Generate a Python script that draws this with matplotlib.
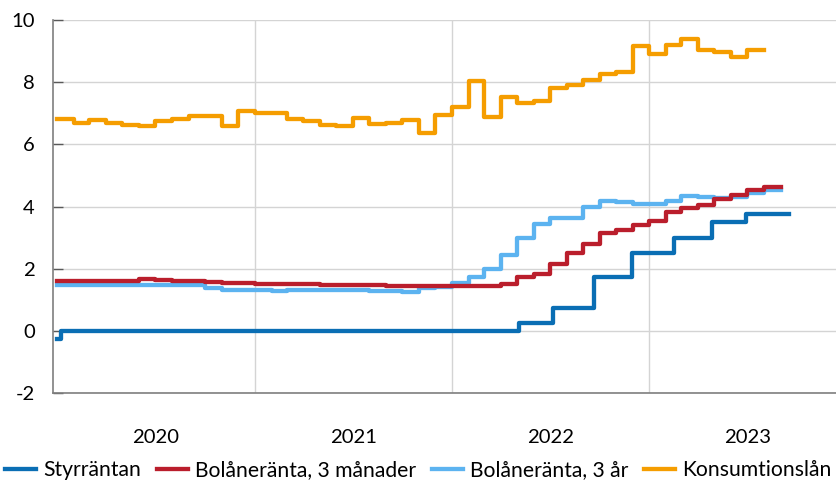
import matplotlib
matplotlib.use("Agg")
import matplotlib.pyplot as plt
import matplotlib.ticker as mticker
import pandas as pd

plt.rcParams['font.family'] = ['Lato', 'DejaVu Sans']
plt.rcParams['axes.unicode_minus'] = False

# Styrräntan, changes by date
styr_dates = ['2020-01-01', '2020-01-08', '2022-05-04', '2022-07-06', '2022-09-21',
              '2022-11-30', '2023-02-15', '2023-04-26', '2023-06-28', '2023-09-16']
styr_values = [-0.25, 0.0, 0.25, 0.75, 1.75, 2.5, 3.0, 3.5, 3.75, 3.75]

# monthly series from Jan 2020
bolan_3m = [1.60, 1.60, 1.62, 1.62, 1.62, 1.66, 1.64, 1.62, 1.61, 1.58, 1.55, 1.53,
            1.52, 1.51, 1.50, 1.50, 1.48, 1.49, 1.49, 1.47, 1.46, 1.45, 1.45, 1.45,
            1.45, 1.45, 1.46, 1.50, 1.73, 1.85, 2.15, 2.52, 2.80, 3.14, 3.25, 3.41,
            3.55, 3.84, 3.97, 4.05, 4.25, 4.39, 4.55, 4.64]
bolan_3ar = [1.49, 1.49, 1.49, 1.49, 1.49, 1.49, 1.48, 1.47, 1.47, 1.37, 1.32, 1.31,
             1.31, 1.30, 1.31, 1.33, 1.33, 1.32, 1.32, 1.30, 1.28, 1.26, 1.40, 1.43,
             1.53, 1.75, 1.98, 2.44, 2.98, 3.44, 3.63, 3.65, 3.98, 4.18, 4.16, 4.10,
             4.10, 4.19, 4.34, 4.30, 4.28, 4.30, 4.44, 4.52]
konsum = [6.82, 6.69, 6.77, 6.70, 6.64, 6.60, 6.74, 6.83, 6.90, 6.90, 6.58, 7.07,
          7.01, 7.02, 6.81, 6.74, 6.62, 6.59, 6.84, 6.67, 6.68, 6.79, 6.38, 6.96,
          7.21, 8.04, 6.89, 7.51, 7.34, 7.40, 7.82, 7.91, 8.07, 8.25, 8.32, 9.17,
          8.91, 9.21, 9.40, 9.05, 8.98, 8.82, 9.02]

labels = ['Styrräntan', 'Bolåneränta, 3 månader', 'Bolåneränta, 3 år', 'Konsumtionslån']
colors = ['#0A6EB4', '#BA1E2C', '#5CB3F0', '#F59D00']


def monthly(vals):
    d = pd.date_range('2020-01-01', periods=len(vals) + 1, freq='MS')
    return d, list(vals) + [vals[-1]]


fig = plt.figure(figsize=(8.37, 4.82), dpi=100)
ax = fig.add_axes([52.7 / 837, 88.7 / 482, 794 / 837, 373.3 / 482])

handles = {}
x, y = monthly(konsum)
handles[3], = ax.plot(x, y, drawstyle='steps-post', color=colors[3], lw=3.1, label=labels[3])
x, y = monthly(bolan_3ar)
handles[2], = ax.plot(x, y, drawstyle='steps-post', color=colors[2], lw=3.1, label=labels[2])
x, y = monthly(bolan_3m)
handles[1], = ax.plot(x, y, drawstyle='steps-post', color=colors[1], lw=3.1, label=labels[1])
handles[0], = ax.plot(pd.to_datetime(styr_dates), styr_values, drawstyle='steps-post',
                      color=colors[0], lw=3.1, label=labels[0])

ax.set_xlim(pd.Timestamp('2019-12-24'), pd.Timestamp('2024-01-01'))
ax.set_ylim(-2, 10)
ax.set_yticks(range(-2, 11, 2))
ax.yaxis.set_major_formatter(mticker.FuncFormatter(lambda v, p: '%d' % v))

years = [2020, 2021, 2022, 2023]
ax.set_xticks([pd.Timestamp('%d-01-01' % yr) for yr in years[1:]])
ax.set_xticklabels([])
ax.set_xticks([pd.Timestamp('%d-07-02' % yr) for yr in years], minor=True)
ax.set_xticklabels([str(yr) for yr in years], minor=True)
ax.tick_params(axis='x', which='both', length=0, labelsize=14.6, pad=26)
ax.tick_params(axis='y', direction='in', length=7.2, width=1, color='#595959',
               labelsize=14.6, pad=13, right=True)

ax.grid(axis='y', color='#d4d4d4', lw=1)
ax.grid(axis='x', which='major', color='#d4d4d4', lw=1)
ax.set_axisbelow(True)
for s in ['top', 'right']:
    ax.spines[s].set_visible(False)
for s in ['left', 'bottom']:
    ax.spines[s].set_color('#7f7f7f')
    ax.spines[s].set_linewidth(1.2)

fig.legend([handles[i] for i in range(4)], labels, loc='center', ncol=4,
           bbox_to_anchor=(0.5, 12 / 482), frameon=False, fontsize=15.2,
           handlelength=1.45, handletextpad=0.35, columnspacing=0.75, borderaxespad=0)

fig.savefig('out.png', dpi=100)
